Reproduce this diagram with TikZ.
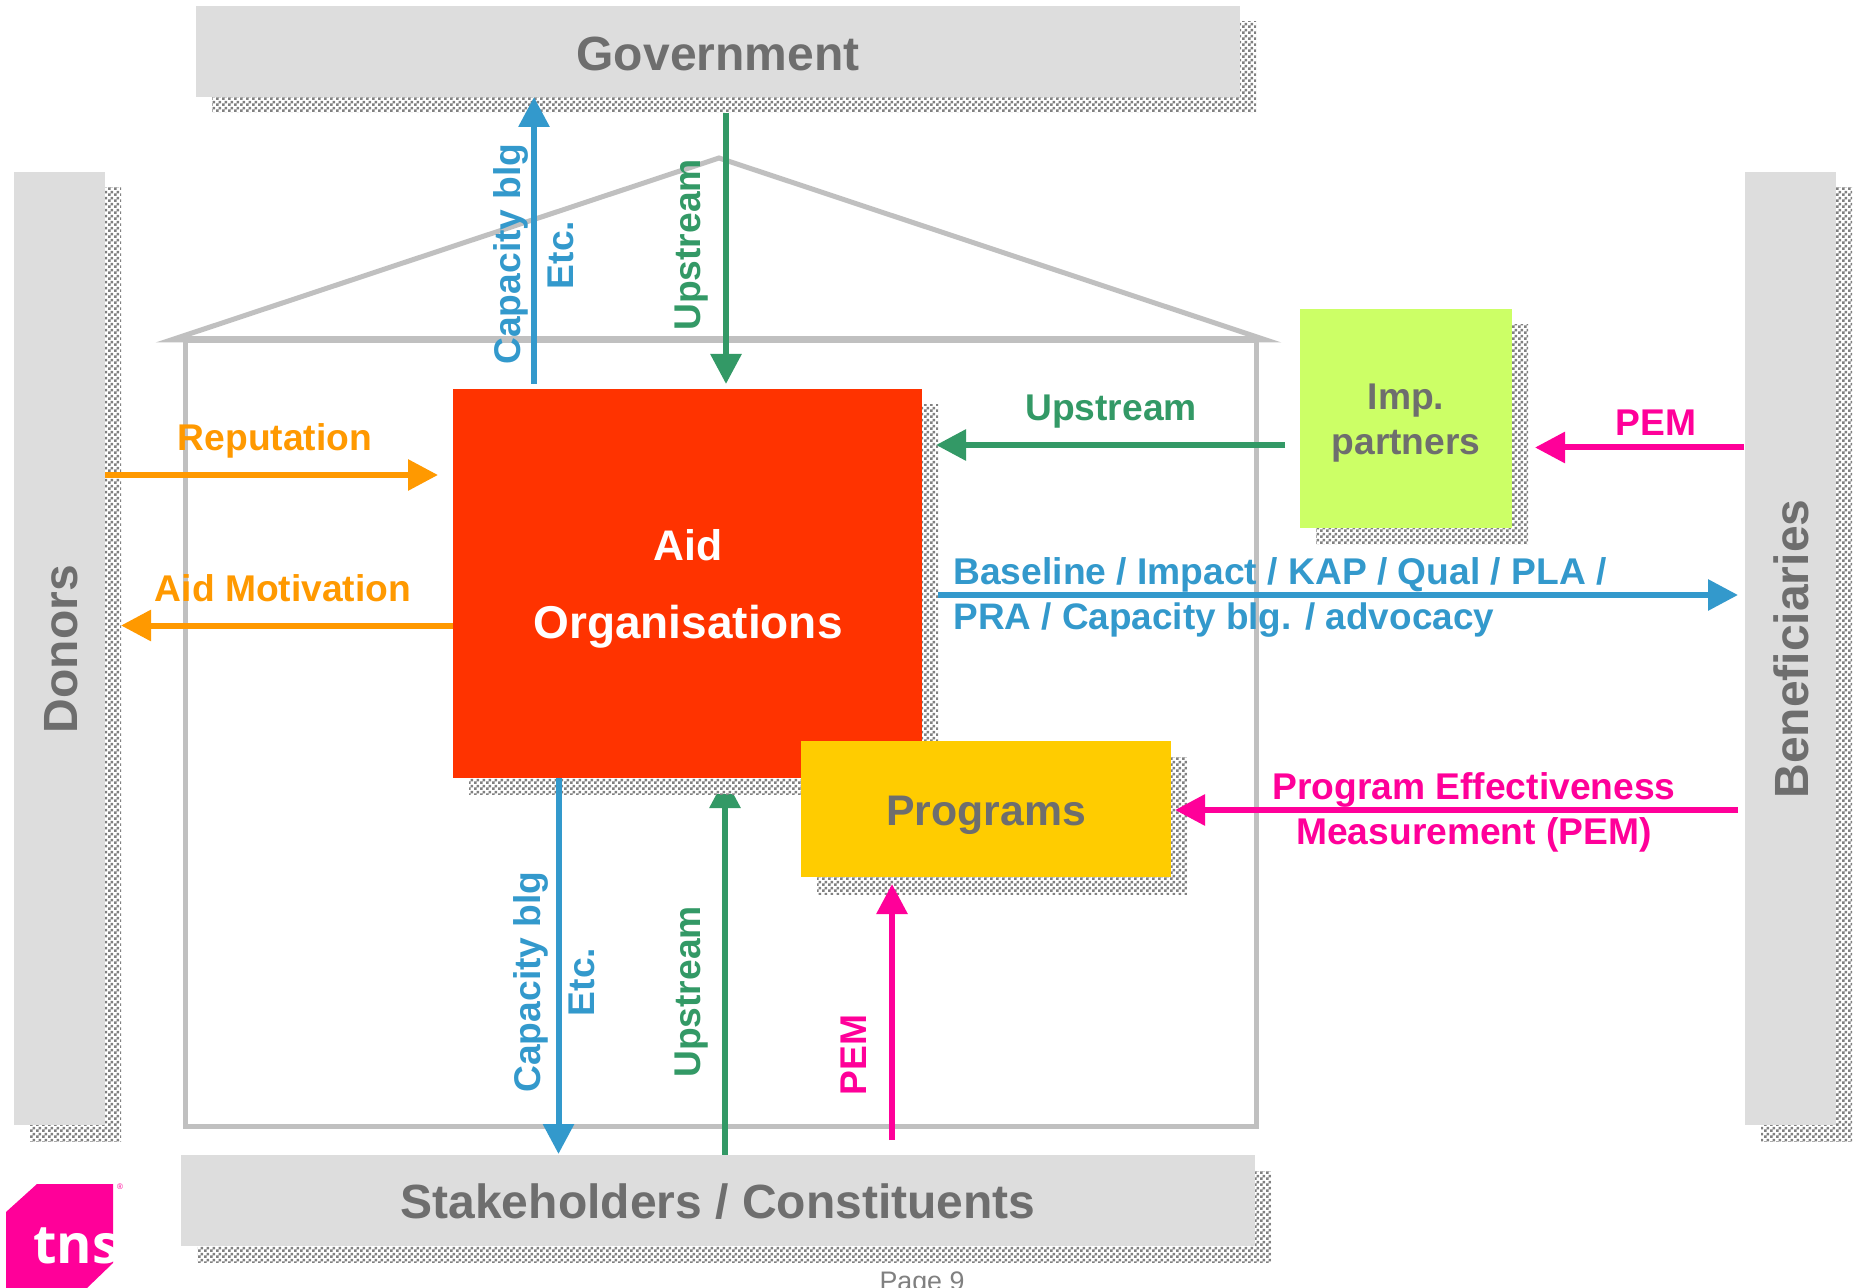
\documentclass[tikz,border=0pt]{standalone}
\usepackage{fontspec}
\setmainfont{Liberation Sans}
\newfontfamily\logofont{Open Sans}
\usetikzlibrary{arrows.meta,patterns}
\definecolor{boxgray}{HTML}{DDDDDD}
\definecolor{textgray}{HTML}{6E6E6E}
\definecolor{housegray}{HTML}{C0C0C0}
\definecolor{aidred}{HTML}{FF3300}
\definecolor{proyellow}{HTML}{FFCC00}
\definecolor{implime}{HTML}{CCFF66}
\definecolor{lblue}{HTML}{3399CC}
\definecolor{lgreen}{HTML}{339966}
\definecolor{lorange}{HTML}{FF9900}
\definecolor{lpink}{HTML}{FF0099}
\pgfdeclarepatternformonly{checker}{\pgfpointorigin}{\pgfqpoint{3pt}{3pt}}{\pgfqpoint{3pt}{3pt}}{%
  \pgfpathrectangle{\pgfpointorigin}{\pgfqpoint{1.5pt}{1.5pt}}%
  \pgfpathrectangle{\pgfqpoint{1.5pt}{1.5pt}}{\pgfqpoint{1.5pt}{1.5pt}}%
  \pgfusepath{fill}}
\tikzset{
  boxnode/.style={rectangle,inner sep=0pt,outer sep=0pt},
  graybox/.style={boxnode,fill=boxgray},
  shadowfill/.style={preaction={fill=white},pattern=checker,pattern color=black!50},
  conn/.style={line width=3pt,-{Triangle[width=15pt,length=15pt]}},
  bigtxt/.style={font=\fontsize{24}{24}\selectfont\bfseries,text=textgray,inner sep=0pt},
  midtxt/.style={font=\fontsize{18.6}{18.6}\selectfont\bfseries,inner sep=0pt},
}
\begin{document}
\begin{tikzpicture}[x=0.5pt,y=-0.5pt]
\useasboundingbox (0,0) rectangle (1856,1288);
\fill[white] (0,0) rectangle (1856,1288);
% house
\draw[housegray,line width=2.5pt] (185,340) rectangle (1256,1126);
\draw[housegray,line width=2.5pt,line join=miter,miter limit=20] (171,340) -- (719,158) -- (1266,340) -- cycle;
\draw[housegray,line width=3.5pt] (185,340) -- (1256,340);
% coordinates
\coordinate (ubS) at (725,1155);
\coordinate (ubE) at (725,778);
% arrow passing behind the shadow
\draw[conn,lgreen] (ubS) -- (ubE);
% shadows
\path[shadowfill] (212,22) rectangle (1256,113);
\path[shadowfill] (30,188) rectangle (121,1141);
\path[shadowfill] (1761,188) rectangle (1852,1141);
\path[shadowfill] (197,1171) rectangle (1271,1262);
\path[shadowfill] (469,405) rectangle (938,794);
\path[shadowfill] (817,757) rectangle (1187,894);
\path[shadowfill] (1316,325) rectangle (1528,544);
% boxes
\node[graybox,minimum width=522pt,minimum height=45.5pt] (gov) at (718,51.5) {};
\node[graybox,minimum width=45.5pt,minimum height=476.5pt] (donors) at (59.5,648.5) {};
\node[graybox,minimum width=45.5pt,minimum height=476.5pt] (benef) at (1790.5,648.5) {};
\node[graybox,minimum width=537pt,minimum height=45.5pt] (stake) at (718,1200.5) {};
\node[boxnode,fill=aidred,minimum width=234.5pt,minimum height=194.5pt] (aid) at (687.5,583.5) {};
\node[boxnode,fill=proyellow,minimum width=185pt,minimum height=68pt] (prog) at (986,809) {};
\node[boxnode,fill=implime,minimum width=106pt,minimum height=109.5pt] (imp) at (1406,418.5) {};
% connector ends
\coordinate (ctS) at (534,384);  \coordinate (ctE) at (534,97);
\coordinate (utS) at (726,113);  \coordinate (utE) at (726,384);
\coordinate (uhS) at (1285,445); \coordinate (uhE) at (936,445);
\coordinate (pmS) at (1744,447.5); \coordinate (pmE) at (1535,447.5);
\coordinate (rpE) at (438,475);
\coordinate (amE) at (121,625.5);
\coordinate (blS) at (938,595);  \coordinate (blE) at (1738,595);
\coordinate (peS) at (1738,810); \coordinate (peE) at (1175,810);
\coordinate (cbE) at (558.5,1154);
\coordinate (pvS) at (892,1140); \coordinate (pvE) at (892,884);
% connectors
\draw[conn,lblue] (ctS) -- (ctE);
\draw[conn,lgreen] (utS) -- (utE);
\draw[conn,lgreen] (uhS) -- (uhE);
\draw[conn,lpink] (pmS) -- (pmE);
\draw[conn,lorange] (donors.east |- rpE) -- (rpE);
\draw[conn,lorange] (aid.west |- amE) -- (amE);
\draw[conn,lblue] (blS) -- (blE);
\draw[conn,lpink] (peS) -- (peE);
\draw[conn,lblue] (aid.south -| cbE) -- (cbE);
\draw[conn,lpink] (pvS) -- (pvE);
% texts
\node[bigtxt] (tgov) at (718,54) {Government};
\node[bigtxt,rotate=90] (tdon) at (61,649) {Donors};
\node[bigtxt,rotate=90] (tben) at (1791,649) {Beneficiaries};
\node[bigtxt] (tsta) at (718,1202) {Stakeholders / Constituents};
\node[font=\fontsize{21.4}{21.4}\selectfont\bfseries,text=white,inner sep=0pt] (taid) at (688,545) {Aid};
\node[font=\fontsize{23}{23}\selectfont\bfseries,text=white,inner sep=0pt] (torg) at (688,627) {Organisations};
\node[font=\fontsize{21.4}{21.4}\selectfont\bfseries,text=textgray,inner sep=0pt] (tpro) at (986,815) {Programs};
\node[midtxt,text=textgray] (timp) at (1406,401) {Imp.};
\node[midtxt,text=textgray] (tpar) at (1406,446) {partners};
\node[midtxt,text=lgreen] (tup1) at (1111,412) {Upstream};
\node[midtxt,text=lpink] (tpem1) at (1656,423) {PEM};
\node[midtxt,text=lorange] (trep) at (275,441) {Reputation};
\node[midtxt,text=lorange] (tam) at (283,588) {Aid Motivation};
\node[midtxt,text=lblue,anchor=west] (tb1) at (953,575) {Baseline / Impact / KAP / Qual / PLA /};
\node[font=\fontsize{18.45}{18.45}\selectfont\bfseries,inner sep=0pt,text=lblue,anchor=west] (tb2) at (953,620) {PRA / Capacity blg. / advocacy};
\node[midtxt,text=lpink] (tp1) at (1474,790) {Program Effectiveness};
\node[midtxt,text=lpink] (tp2) at (1474,835) {Measurement (PEM)};
\node[midtxt,text=lblue,rotate=90] (tc1) at (511,254) {Capacity blg};
\node[midtxt,text=lblue,rotate=90] (te1) at (561,255) {Etc.};
\node[midtxt,text=lgreen,rotate=90] (tu2) at (692,245) {Upstream};
\node[midtxt,text=lblue,rotate=90] (tc2) at (531,982) {Capacity blg};
\node[midtxt,text=lblue,rotate=90] (te2) at (582,982) {Etc.};
\node[midtxt,text=lgreen,rotate=90] (tu3) at (692,992) {Upstream};
\node[midtxt,text=lpink,rotate=90] (tpem2) at (854,1055) {PEM};
\node[font=\fontsize{13.4}{13.4}\selectfont,text=black!50,inner sep=0pt] (tpage) at (922,1284) {Page 9};
% logo
\begin{scope}
\clip (37,1184) -- (113,1184) -- (113,1263) -- (87,1288) -- (6,1288) -- (6,1212) -- cycle;
\fill[lpink] (0,1180) rectangle (120,1288);
\node[font=\logofont\fontsize{27}{27}\selectfont\bfseries,text=white,inner sep=0pt,anchor=base west] (ttns) at (33,1263) {tns};
\end{scope}
\node[font=\fontsize{4}{4}\selectfont,text=lpink,inner sep=0pt] (treg) at (120,1187) {®};
\end{tikzpicture}
\end{document}
